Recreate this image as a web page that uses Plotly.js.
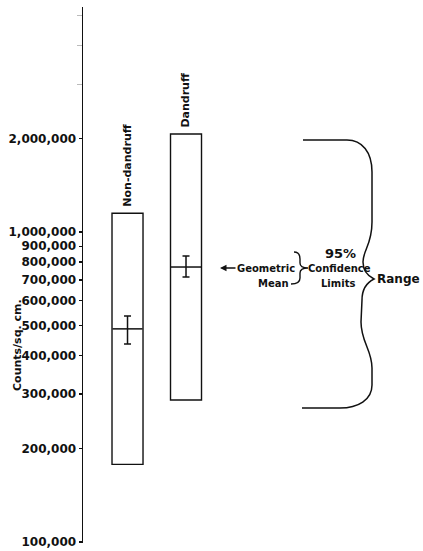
<!DOCTYPE html>
<html>
<head>
<meta charset="utf-8">
<script src="https://cdn.plot.ly/plotly-3.0.1.min.js"></script>
<style>
  html, body { margin: 0; padding: 0; background: #ffffff; }
  #chart { width: 423px; height: 551px; }
</style>
</head>
<body>
<div id="chart"></div>
<script>
// ---- data ----
var groups    = ['Non-dandruff', 'Dandruff'];
var groupPos  = [1, 2];
var rangeLow  = [178000, 287000];
var rangeHigh = [1150000, 2070000];
var geoMean   = [487000, 771000];
var ciLow     = [435000, 716000];
var ciHigh    = [536000, 837000];

var tickVals  = [100000, 200000, 300000, 400000, 500000, 600000, 700000, 800000, 900000, 1000000, 2000000];
var tickText  = ['100,000', '200,000', '300,000', '400,000', '500,000', '600,000', '700,000', '800,000', '900,000', '1,000,000', '2,000,000'];
var minorVals = [3000000, 4000000, 5000000];

var yTitle = 'Counts/sq. cm.';
var legendText = { mean1: 'Geometric', mean2: 'Mean', pct: '95%', ci1: 'Confidence', ci2: 'Limits', range: 'Range' };

// ---- layout geometry helpers (pixel -> paper) ----
var W = 423, H = 551;
var M = { l: 83, r: 3, t: 7, b: 8 };
var PW = W - M.l - M.r, PH = H - M.t - M.b;
function px(x) { return (x - M.l) / PW; }
function py(y) { return (H - M.b - y) / PH; }
function P(x, y) { return px(x).toFixed(5) + ',' + py(y).toFixed(5); }

var FONT = 'DejaVu Sans, Verdana, sans-serif';
var INK = '#111111';

var bars = {
  type: 'bar',
  x: groupPos,
  base: rangeLow,
  y: rangeHigh.map(function (h, i) { return h - rangeLow[i]; }),
  width: 0.53,
  marker: { color: '#ffffff', line: { color: INK, width: 1.4 } },
  hoverinfo: 'skip',
  showlegend: false
};

var means = {
  type: 'scatter',
  mode: 'markers',
  x: groupPos,
  y: geoMean,
  marker: { symbol: 'line-ew', size: 21.5, color: INK, line: { color: INK, width: 1.5 } },
  error_y: {
    type: 'data',
    symmetric: false,
    array: ciHigh.map(function (v, i) { return v - geoMean[i]; }),
    arrayminus: geoMean.map(function (v, i) { return v - ciLow[i]; }),
    color: INK, thickness: 1.5, width: 3.5
  },
  hoverinfo: 'skip',
  showlegend: false
};

function paperText(x, y, text, size, extra) {
  var a = { xref: 'paper', yref: 'paper', x: px(x), y: py(y), text: text,
    xanchor: 'center', yanchor: 'middle', showarrow: false,
    font: { family: FONT, size: size, color: INK, weight: 'bold' } };
  if (extra) { for (var k in extra) a[k] = extra[k]; }
  return a;
}

var annotations = [ paperText(17, 345, yTitle, 11, { textangle: -90 }) ];
groups.forEach(function (g, i) {
  annotations.push({
    xref: 'x', yref: 'y', x: groupPos[i], y: Math.log10(rangeHigh[i]),
    text: g, textangle: -90, showarrow: false, xanchor: 'center', yanchor: 'bottom', yshift: 4,
    font: { family: FONT, size: 11, color: INK, weight: 'bold' }
  });
});
annotations.push(
  paperText(220, 268, legendText.mean1, 10, { showarrow: true, ax: 46, ay: 0, arrowhead: 2, arrowsize: 1,
    arrowwidth: 1.3, arrowcolor: INK, standoff: 0 }),
  paperText(273, 283, legendText.mean2, 10),
  paperText(340, 253, legendText.pct, 13),
  paperText(339, 268, legendText.ci1, 10),
  paperText(338, 283, legendText.ci2, 10),
  paperText(398, 279, legendText.range, 12)
);

var bigBrace = 'M' + P(303, 140) + ' L' + P(347, 140) +
  ' C' + P(362, 140) + ' ' + P(372, 152) + ' ' + P(372, 172) +
  ' L' + P(372, 222) +
  ' C' + P(372, 245) + ' ' + P(363, 250) + ' ' + P(363, 262) +
  ' C' + P(363, 271) + ' ' + P(368, 276) + ' ' + P(374, 279) +
  ' C' + P(368, 282) + ' ' + P(362, 288) + ' ' + P(362, 300) +
  ' L' + P(361, 322) +
  ' C' + P(361, 342) + ' ' + P(372, 350) + ' ' + P(372, 368) +
  ' L' + P(372, 385) +
  ' C' + P(372, 400) + ' ' + P(358, 408) + ' ' + P(340, 408) +
  ' L' + P(302, 408);

var smallBrace = 'M' + P(294, 252) +
  ' C' + P(298, 252) + ' ' + P(300, 255) + ' ' + P(300, 259) +
  ' L' + P(300, 263) +
  ' C' + P(300, 266) + ' ' + P(303, 268) + ' ' + P(308, 268) +
  ' C' + P(303, 268) + ' ' + P(300, 270) + ' ' + P(300, 273) +
  ' L' + P(300, 278) +
  ' C' + P(300, 282) + ' ' + P(297, 284) + ' ' + P(291, 284);

var shapes = [
  { type: 'path', xref: 'paper', yref: 'paper', path: bigBrace, line: { color: INK, width: 1.5 } },
  { type: 'path', xref: 'paper', yref: 'paper', path: smallBrace, line: { color: INK, width: 1.4 } }
];

var layout = {
  width: W, height: H,
  margin: M,
  paper_bgcolor: '#ffffff', plot_bgcolor: '#ffffff',
  showlegend: false,
  xaxis: { range: [0.239, 6.0], visible: false, fixedrange: true },
  yaxis: {
    type: 'log',
    range: [4.9968, 6.7258],
    showline: true, linecolor: INK, linewidth: 1.5,
    showgrid: false, zeroline: false,
    ticks: 'outside', ticklen: 3, tickwidth: 1.3, tickcolor: INK,
    tickmode: 'array', tickvals: tickVals, ticktext: tickText,
    tickfont: { family: FONT, size: 12, color: INK, weight: 'bold' },
    minor: { tickmode: 'array', tickvals: minorVals, ticks: 'outside', ticklen: 5, tickwidth: 1, tickcolor: '#bbbbbb', showgrid: false },
    fixedrange: true
  },
  annotations: annotations,
  shapes: shapes
};

Plotly.newPlot('chart', [bars, means], layout, { displayModeBar: false, staticPlot: true });
</script>
</body>
</html>
